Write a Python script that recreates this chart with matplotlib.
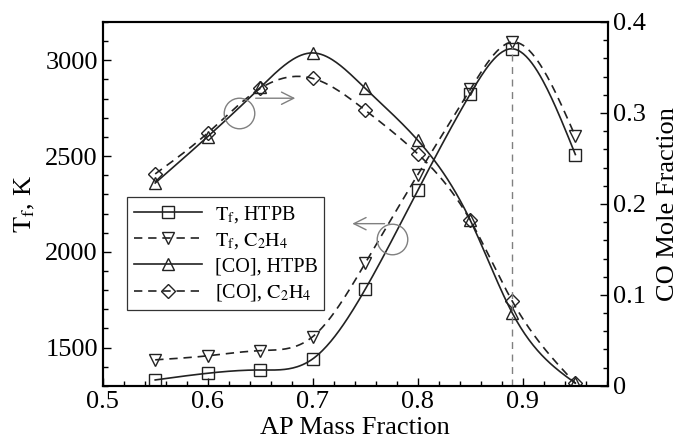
import numpy as np
from matplotlib import pyplot as plt
from matplotlib.lines import Line2D

plt.rcParams['font.family'] = 'Liberation Serif'
plt.rcParams['mathtext.fontset'] = 'stix'

# данные
ap_frac = [0.55, 0.60, 0.65, 0.70, 0.75, 0.80, 0.85, 0.89, 0.95]
tf_htpb = [1331, 1366, 1383, 1441, 1805, 2321, 2825, 3060, 2508]
tf_c2h4 = [1436, 1457, 1484, 1557, 1941, 2403, 2848, 3095, 2603]
co_htpb = [0.223, 0.274, 0.328, 0.366, 0.327, 0.270, 0.182, 0.080, 0.003]
co_c2h4 = [0.233, 0.278, 0.327, 0.338, 0.303, 0.255, 0.182, 0.093, 0.003]

x_ticks = [0.5, 0.6, 0.7, 0.8, 0.9]
tf_ticks = [1500, 2000, 2500, 3000]
co_ticks = [0, 0.1, 0.2, 0.3, 0.4]
co_labels = ['0', '0.1', '0.2', '0.3', '0.4']


def smooth(x, y, n=300):
    # натуральный кубический сплайн только для отрисовки линии
    x = np.asarray(x, float)
    y = np.asarray(y, float)
    h = np.diff(x)
    m = len(x)
    A = np.zeros((m, m))
    b = np.zeros(m)
    A[0, 0] = A[-1, -1] = 1
    for i in range(1, m - 1):
        A[i, i - 1] = h[i - 1]
        A[i, i] = 2 * (h[i - 1] + h[i])
        A[i, i + 1] = h[i]
        b[i] = 3 * ((y[i + 1] - y[i]) / h[i] - (y[i] - y[i - 1]) / h[i - 1])
    c = np.linalg.solve(A, b)
    xs = np.linspace(x[0], x[-1], n)
    idx = np.clip(np.searchsorted(x, xs) - 1, 0, m - 2)
    dx = xs - x[idx]
    bb = (y[1:] - y[:-1]) / h - h * (2 * c[:-1] + c[1:]) / 3
    d = (c[1:] - c[:-1]) / (3 * h)
    ys = y[idx] + bb[idx] * dx + c[idx] * dx ** 2 + d[idx] * dx ** 3
    return xs, ys


color = '#222222'
gray = '#808080'
dash = (0, (5, 3.5))
ms = 9

fig = plt.figure(figsize=(6.8, 4.4), dpi=100)
ax = fig.add_axes([0.151, 0.123, 0.743, 0.827])
ax2 = ax.twinx()

series = [
    (ax, tf_htpb, 's', '-', r'$\mathrm{T_f}$, HTPB'),
    (ax, tf_c2h4, 'v', dash, r'$\mathrm{T_f}$, $\mathrm{C_2H_4}$'),
    (ax2, co_htpb, '^', '-', '[CO], HTPB'),
    (ax2, co_c2h4, 'D', dash, r'[CO], $\mathrm{C_2H_4}$'),
]
handles = []
for a, y, mk, ls, lab in series:
    xs, ys = smooth(ap_frac, y)
    a.plot(xs, ys, color=color, lw=1.2, linestyle=ls)
    msz = ms - 1.5 if mk == 'D' else ms
    a.plot(ap_frac, y, linestyle='none', marker=mk, markersize=msz,
           markerfacecolor='none', markeredgecolor=color, markeredgewidth=1.0)
    handles.append(Line2D([], [], color=color, lw=1.2, linestyle=ls,
                          marker=mk, markersize=msz, markerfacecolor='none',
                          markeredgecolor=color, markeredgewidth=1.0,
                          label=lab))

# вертикальная пунктирная линия в максимуме
ax.plot([0.89, 0.89], [1300, 3070], color=gray, lw=1, linestyle=(0, (5, 4)))

# кружки и стрелки
ax.plot([0.630], [2724], marker='o', markersize=22, markerfacecolor='none',
        markeredgecolor=gray, markeredgewidth=1.0, linestyle='none')
ax.annotate('', xy=(0.686, 2802), xytext=(0.643, 2802),
            arrowprops=dict(arrowstyle='->', color=gray, lw=1.0,
                            mutation_scale=22))
ax.plot([0.775], [2067], marker='o', markersize=22, markerfacecolor='none',
        markeredgecolor=gray, markeredgewidth=1.0, linestyle='none')
ax.annotate('', xy=(0.735, 2147), xytext=(0.771, 2147),
            arrowprops=dict(arrowstyle='->', color=gray, lw=1.0,
                            mutation_scale=22))

ax.set_xlim(0.5, 0.981)
ax.set_ylim(1300, 3200)
ax2.set_ylim(0, 0.4)

ax.set_xticks(x_ticks)
ax.set_xticks(np.arange(0.5, 0.981, 0.02), minor=True)
ax.set_yticks(tf_ticks)
ax.set_yticks(np.arange(1300, 3201, 100), minor=True)
ax2.set_yticks(co_ticks)
ax2.set_yticklabels(co_labels)
ax2.set_yticks(np.arange(0, 0.401, 0.02), minor=True)

for a in (ax, ax2):
    a.tick_params(which='both', direction='in', labelsize=19, width=1)
    a.tick_params(which='major', length=6)
    a.tick_params(which='minor', length=3.5)
    for s in a.spines.values():
        s.set_linewidth(1.5)
ax.tick_params(which='both', top=False, right=False)
ax2.tick_params(which='both', left=False)

ax.set_xlabel('AP Mass Fraction', fontsize=19, labelpad=3)
ax.set_ylabel(r'$\mathrm{T_f}$, K', fontsize=19, labelpad=6)
ax2.set_ylabel('CO Mole Fraction', fontsize=19, labelpad=8)

leg = ax.legend(handles=handles, loc='upper left',
                bbox_to_anchor=(0.048, 0.519), borderaxespad=0,
                fontsize=14.5, handlelength=3.4, numpoints=1,
                fancybox=False, framealpha=1, edgecolor='#333333',
                borderpad=0.35, labelspacing=0.3, handletextpad=0.6)
leg.get_frame().set_linewidth(0.9)
ax.set_zorder(ax2.get_zorder() + 1)
ax.patch.set_visible(False)

fig.savefig('out.png', dpi=100)
